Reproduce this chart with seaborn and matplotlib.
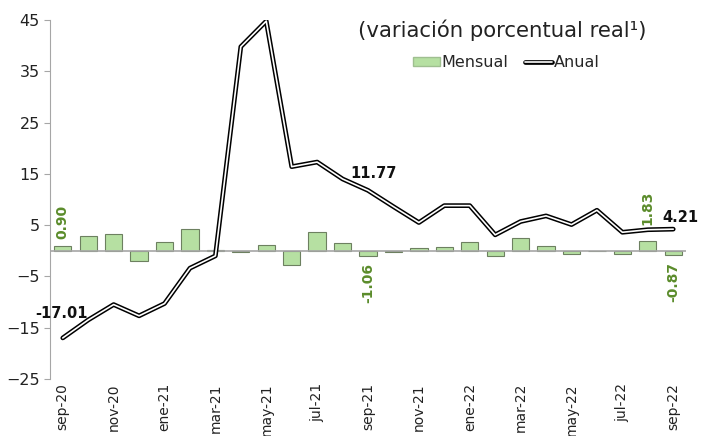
import numpy as np
import pandas as pd
import matplotlib
matplotlib.use("Agg")
import matplotlib.pyplot as plt
import matplotlib.patheffects as pe
from matplotlib.patches import Patch
from matplotlib.lines import Line2D
import seaborn as sns

months = ["sep-20", "oct-20", "nov-20", "dic-20", "ene-21", "feb-21", "mar-21",
          "abr-21", "may-21", "jun-21", "jul-21", "ago-21", "sep-21", "oct-21",
          "nov-21", "dic-21", "ene-22", "feb-22", "mar-22", "abr-22", "may-22",
          "jun-22", "jul-22", "ago-22", "sep-22"]
mensual = [0.90, 2.9, 3.2, -1.95, 1.8, 4.3, 0.1, -0.2, 1.1, -2.7, 3.6, 1.5, -1.06,
           -0.3, 0.5, 0.65, 1.8, -1.1, 2.5, 0.85, -0.6, -0.1, -0.55, 1.83, -0.87]
anual = [-17.01, -13.5, -10.5, -12.7, -10.3, -3.4, -1.0, 39.8, 44.8, 16.4, 17.3,
         14.0, 11.77, 8.6, 5.5, 8.8, 8.8, 3.1, 5.7, 6.8, 5.1, 7.9, 3.6, 4.1, 4.21]

# labelled points
mensual_labels = [0, 12, 23, 24]
anual_labels = [0, 12, 24]

df = pd.DataFrame({"mes": months, "pos": range(len(months)),
                   "mensual": mensual, "anual": anual})

sns.set_style("white")
plt.rcParams["font.family"] = ["DejaVu Sans"]

fig = plt.figure(figsize=(7.05, 4.36), dpi=100)
ax = fig.add_axes([0.071, 0.131, 0.902, 0.823])

bar_color = "#b6e0a2"
sns.barplot(data=df, x="pos", y="mensual", color=bar_color, width=0.68,
            edgecolor="#6d8060", linewidth=0.8, saturation=1, ax=ax, native_scale=True)

ax.axhline(0, color="#a6a6a6", lw=1.2, zorder=1)

double = [pe.Stroke(linewidth=3.4, foreground="black"), pe.Normal()]
sns.lineplot(data=df, x="pos", y="anual", color="white", lw=1.2, ax=ax,
             path_effects=double, zorder=5)

green = "#5b8c2b"
label_gap = {0: 5, 12: 5, 23: 12, 24: 5}
for i in mensual_labels:
    v = mensual[i]
    up = v >= 0
    gap = label_gap[i]
    ax.annotate(f"{v:.2f}", (i, v), xytext=(0, gap if up else -gap),
                textcoords="offset points", rotation=90, ha="center",
                va="bottom" if up else "top", color=green,
                fontsize=10, fontweight="bold")

offsets = {0: (-1, 12, "center"), 12: (4, 7, "center"), 24: (-8, 3, "left")}
for i in anual_labels:
    dx, dy, ha = offsets[i]
    ax.annotate(f"{anual[i]:.2f}", (i, anual[i]), xytext=(dx, dy),
                textcoords="offset points", ha=ha, va="bottom",
                fontsize=10.5, fontweight="bold", color="#111111")

ax.set_xlim(-0.5, len(months) - 0.5)
ax.set_ylim(-25, 45)
ax.set_yticks(np.arange(-25, 46, 10))
ax.set_xticks(df["pos"][::2])
ax.set_xticklabels(df["mes"][::2], rotation=90, va="top", ha="center")
ax.set_xlabel("")
ax.set_ylabel("")
ax.tick_params(axis="x", length=0, labelsize=10, labelcolor="#222222", pad=3)
ax.tick_params(axis="y", length=4, color="#a6a6a6", labelsize=11.5,
               labelcolor="#222222", left=True)

for side in ["top", "right", "bottom"]:
    ax.spines[side].set_visible(False)
ax.spines["left"].set_color("#a6a6a6")

fig.text(0.713, 0.93, "(variación porcentual real¹)", ha="center", va="center",
         fontsize=15.3, color="#222222")

handles = [Patch(facecolor=bar_color, edgecolor="#9fbf90", label="Mensual"),
           Line2D([], [], color="white", lw=1.2, path_effects=double, label="Anual")]
fig.legend(handles=handles, loc="center", bbox_to_anchor=(0.718, 0.856), ncol=2,
           frameon=False, fontsize=11.5, handlelength=1.7, handleheight=0.5,
           handletextpad=0.1, columnspacing=1.0)

fig.savefig("out.png", dpi=100)
